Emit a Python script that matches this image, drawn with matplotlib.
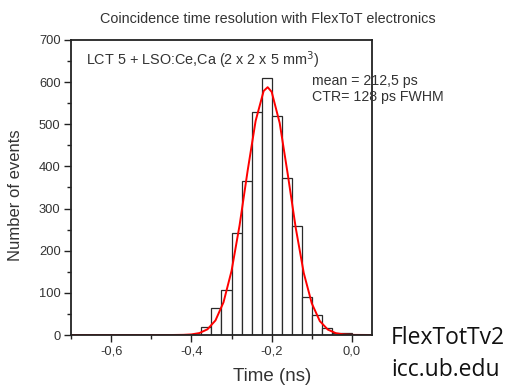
import numpy as np
import matplotlib
matplotlib.use("Agg")
from matplotlib import pyplot as plt
from matplotlib.ticker import MultipleLocator, FuncFormatter

# histogram bins (left edges, ns) and counts
bin_left = [-0.375, -0.35, -0.325, -0.3, -0.275, -0.25, -0.225, -0.2,
            -0.175, -0.15, -0.125, -0.1, -0.075, -0.05, -0.025]
counts = [18, 63, 107, 242, 365, 529, 609, 520, 372, 259, 90, 48, 16, 4, 4]
bin_width = 0.025

# red fit curve
fit_x = [-0.70, -0.45, -0.42, -0.40, -0.38, -0.36, -0.34, -0.32, -0.30, -0.28,
         -0.26, -0.24, -0.22, -0.21, -0.20, -0.18, -0.16, -0.14, -0.12, -0.10,
         -0.08, -0.06, -0.04, -0.02, 0.0, 0.05]
fit_y = [0, 0, 0.4, 1.4, 4.6, 13.5, 34.6, 77.6, 152, 260,
         389, 508, 579, 588, 577, 503, 382, 254, 147, 75,
         33, 12.8, 4.3, 1.3, 0.3, 0]

plt.rcParams['font.family'] = ['Liberation Sans', 'DejaVu Sans']
txt = '#333333'

fig = plt.figure(figsize=(5.08, 3.89), dpi=100)
ax = fig.add_axes([71/508, 54/389, 301/508, 295/389])

ax.bar(bin_left, counts, width=bin_width, align='edge', color='white',
       edgecolor='#2a2a2a', linewidth=0.9)
ax.plot(fit_x, fit_y, color='#ff0000', linewidth=1.4)

ax.set_xlim(-0.7, 0.05)
ax.set_ylim(0, 700)
ax.xaxis.set_major_locator(MultipleLocator(0.2))
ax.xaxis.set_minor_locator(MultipleLocator(0.1))
ax.yaxis.set_major_locator(MultipleLocator(100))
ax.yaxis.set_minor_locator(MultipleLocator(50))
ax.xaxis.set_major_formatter(FuncFormatter(lambda v, p: ('%.1f' % v).replace('.', ',').replace('-0,0', '0,0')))
ax.tick_params(which='both', direction='out', colors='#222222', labelcolor=txt,
               labelsize=9.3, width=1.0)
ax.tick_params(which='major', length=5, pad=2.5)
ax.tick_params(which='minor', length=3)
for s in ax.spines.values():
    s.set_linewidth(1.3)
    s.set_color('#222222')

ax.set_xlabel('Time (ns)', fontsize=13.5, color=txt)
ax.set_ylabel('Number of events', fontsize=12, color=txt)
ax.xaxis.set_label_coords(201/301, -33/295)
ax.yaxis.set_label_coords(-48/301, 140/295)

fig.text(268/508, 1 - 19/389, 'Coincidence time resolution with FlexToT electronics',
         ha='center', va='center', fontsize=10.4, color=txt)
fig.text(86/508, 1 - 60/389, 'LCT 5 + LSO:Ce,Ca (2 x 2 x 5 mm$^3$)',
         ha='left', va='center', fontsize=10.4, color=txt)
fig.text(312/508, 1 - 81/389, 'mean = 212,5 ps',
         ha='left', va='center', fontsize=10.2, color=txt)
fig.text(312/508, 1 - 97/389, 'CTR= 128 ps FWHM',
         ha='left', va='center', fontsize=10.2, color=txt)

fig.text(391/508, 1 - 338/389, 'FlexTotTv2', ha='left', va='center',
         fontsize=16.5, color='#111111', family=['Open Sans', 'DejaVu Sans'])
fig.text(391/508, 1 - 370/389, 'icc.ub.edu', ha='left', va='center',
         fontsize=16.5, color='#111111', family=['Open Sans', 'DejaVu Sans'])

fig.savefig('out.png', dpi=100)
